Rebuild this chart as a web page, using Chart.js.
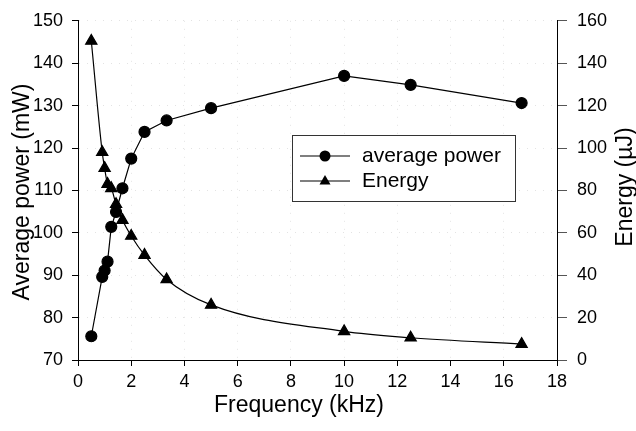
<!DOCTYPE html>
<html>
<head>
<meta charset="utf-8">
<script src="https://cdn.jsdelivr.net/npm/chart.js@4/dist/chart.umd.min.js"></script>
<style>
  body { margin: 0; background: #fff; }
  #chart { display: block; }
</style>
</head>
<body>
<canvas id="chart" width="636" height="431"></canvas>
<script>
// frequency in kHz
const freq = [0.5, 0.91, 1.0, 1.11, 1.25, 1.43, 1.67, 2.0, 2.5, 3.33, 5.0, 10.0, 12.5, 16.67];
// average power (mW), left axis
const power = [75.6, 89.6, 91.1, 93.2, 101.4, 104.9, 110.5, 117.5, 123.8, 126.5, 129.4, 137.0, 134.9, 130.6];
// pulse energy (uJ), right axis
const energy = [150.5, 98, 90.5, 83, 81, 73.5, 66, 58.5, 49.5, 38, 26, 13.5, 10.5, 7.5];

const xTicks = [0, 18, 2];      // min, max, step
const powerTicks = [70, 150, 10];
const energyTicks = [0, 160, 20];

const FONT = '"Liberation Sans", Arial, sans-serif';

const titlesAndLegend = {
    id: 'titlesAndLegend',
    beforeDraw(chart) {
        const ctx = chart.ctx;
        ctx.save();
        ctx.fillStyle = '#fff';
        ctx.fillRect(0, 0, chart.width, chart.height);
        ctx.restore();
    },
    afterDraw(chart) {
        const ctx = chart.ctx;
        ctx.save();
        ctx.fillStyle = '#000';
        ctx.font = '23px ' + FONT;
        ctx.textAlign = 'center';
        ctx.textBaseline = 'middle';
        ctx.fillText('Frequency (kHz)', 299, 406);

        ctx.save();
        ctx.translate(23, 192);
        ctx.rotate(-Math.PI / 2);
        ctx.fillText('Average power (mW)', 0, 0);
        ctx.restore();

        ctx.save();
        ctx.translate(626, 187);
        ctx.rotate(-Math.PI / 2);
        ctx.fillText('Energy (\u00b5J)', 0, 0);
        ctx.restore();

        // legend box
        ctx.fillStyle = '#fff';
        ctx.fillRect(292, 135, 223, 66);
        ctx.strokeStyle = '#333';
        ctx.lineWidth = 1;
        ctx.strokeRect(292.5, 135.5, 223, 66);

        const rows = [['average power', 'circle', 156], ['Energy', 'triangle', 181]];
        rows.forEach(([label, style, y]) => {
            ctx.strokeStyle = '#000';
            ctx.lineWidth = 1.2;
            ctx.beginPath();
            ctx.moveTo(300, y);
            ctx.lineTo(350, y);
            ctx.stroke();
            ctx.fillStyle = '#000';
            ctx.beginPath();
            if (style === 'circle') {
                ctx.arc(325, y, 5.5, 0, Math.PI * 2);
            } else {
                ctx.moveTo(325, y - 6);
                ctx.lineTo(330.5, y + 3.5);
                ctx.lineTo(319.5, y + 3.5);
                ctx.closePath();
            }
            ctx.fill();
            ctx.font = '21px ' + FONT;
            ctx.textAlign = 'left';
            ctx.textBaseline = 'middle';
            ctx.fillText(label, 362, y);
        });
        ctx.restore();
    }
};

new Chart(document.getElementById('chart'), {
    type: 'line',
    data: {
        datasets: [{
            label: 'average power',
            data: freq.map((f, i) => ({ x: f, y: power[i] })),
            yAxisID: 'y',
            borderColor: '#000',
            backgroundColor: '#000',
            borderWidth: 1.2,
            pointStyle: 'circle',
            pointRadius: 5.5,
            tension: 0
        }, {
            label: 'Energy',
            data: freq.map((f, i) => ({ x: f, y: energy[i] })),
            yAxisID: 'y2',
            borderColor: '#000',
            backgroundColor: '#000',
            borderWidth: 1.2,
            pointStyle: 'triangle',
            pointRadius: 6.5,
            cubicInterpolationMode: 'monotone'
        }]
    },
    options: {
        responsive: false,
        animation: false,
        layout: { padding: { top: 17, left: 0, right: 0, bottom: 0 } },
        plugins: { legend: { display: false }, tooltip: { enabled: false } },
        scales: {
            x: {
                type: 'linear',
                min: xTicks[0], max: xTicks[1],
                afterFit(s) { s.height = 71; },
                ticks: { stepSize: xTicks[2], color: '#000', padding: 5, maxRotation: 0, font: { family: FONT, size: 18 } },
                grid: { color: 'rgba(0,0,0,0.11)', tickColor: '#000', tickLength: 6, lineWidth: 1 },
                border: { display: true, color: '#000', width: 1, dash: [1, 7] }
            },
            y: {
                position: 'left',
                min: powerTicks[0], max: powerTicks[1],
                afterFit(s) { s.width = 78; },
                ticks: { stepSize: powerTicks[2], color: '#000', padding: 9, font: { family: FONT, size: 18 } },
                grid: { color: 'rgba(0,0,0,0.11)', tickColor: '#000', tickLength: 6, lineWidth: 1 },
                border: { display: true, color: '#000', width: 1, dash: [1, 7] }
            },
            y2: {
                position: 'right',
                min: energyTicks[0], max: energyTicks[1],
                afterFit(s) { s.width = 79; },
                ticks: { stepSize: energyTicks[2], color: '#000', padding: 10, font: { family: FONT, size: 18 } },
                grid: { drawOnChartArea: false, tickColor: '#555', tickLength: 10 },
                border: { display: true, color: '#000', width: 1 }
            }
        }
    },
    plugins: [titlesAndLegend]
});
</script>
</body>
</html>
